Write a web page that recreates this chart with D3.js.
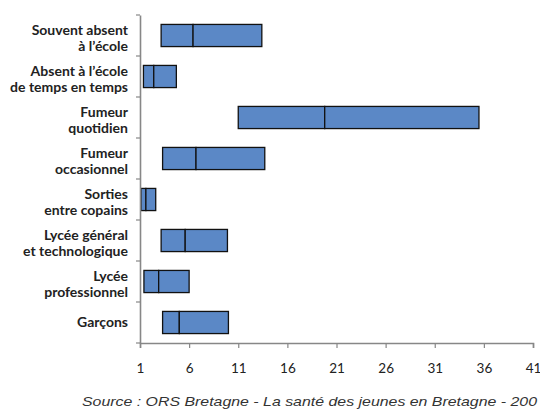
<!DOCTYPE html>
<html>
<head>
<meta charset="utf-8">
<script src="https://cdn.jsdelivr.net/npm/d3@7"></script>
<style>
  body { margin: 0; background: #fff; }
</style>
</head>
<body>
<div id="chart"></div>
<script>
// categories, top to bottom (each label split on lines)
const categories = [
    ["Souvent absent", "à l’école"],
    ["Absent à l’école", "de temps en temps"],
    ["Fumeur", "quotidien"],
    ["Fumeur", "occasionnel"],
    ["Sorties", "entre copains"],
    ["Lycée général", "et technologique"],
    ["Lycée", "professionnel"],
    ["Garçons"]
];
// low bound, median, high bound
const lowVals  = [3.15, 1.35, 11.0, 3.3, 1.1, 3.15, 1.4, 3.3];
const midVals  = [6.4, 2.4, 19.8, 6.7, 1.6, 5.6, 2.9, 5.0];
const highVals = [13.4, 4.7, 35.5, 13.7, 2.6, 9.9, 6.0, 10.0];
const xTicks = [1, 6, 11, 16, 21, 26, 31, 36, 41];
const sourceText = "Source : ORS Bretagne - La santé des jeunes en Bretagne - 200";

const width = 540, height = 412;
const margin = {top: 15, left: 140, right: 7, bottom: 69};

const svg = d3.select("#chart")
    .append("svg")
    .attr("width", width)
    .attr("height", height);

const x = d3.scaleLinear()
    .domain([1, 41])
    .range([margin.left, width - margin.right]);

const y = d3.scaleBand()
    .domain(d3.range(categories.length))
    .range([margin.top, height - margin.bottom]);

const rows = categories.map((c, i) => ({
    label: c, low: lowVals[i], mid: midVals[i], high: highVals[i], i: i
}));

const barH = y.bandwidth() * 0.54;

const g = svg.append("g");

// lower part (low -> median)
g.selectAll("rect.lo")
    .data(rows)
    .join("rect")
    .attr("class", "lo")
    .attr("x", d => x(d.low))
    .attr("y", d => y(d.i) + (y.bandwidth() - barH) / 2)
    .attr("width", d => x(d.mid) - x(d.low))
    .attr("height", barH)
    .attr("fill", "#5b88c6")
    .attr("stroke", "#111")
    .attr("stroke-width", 1.3);

// upper part (median -> high)
g.selectAll("rect.hi")
    .data(rows)
    .join("rect")
    .attr("class", "hi")
    .attr("x", d => x(d.mid))
    .attr("y", d => y(d.i) + (y.bandwidth() - barH) / 2)
    .attr("width", d => x(d.high) - x(d.mid))
    .attr("height", barH)
    .attr("fill", "#5b88c6")
    .attr("stroke", "#111")
    .attr("stroke-width", 1.3);

// x axis
const xAxis = svg.append("g")
    .attr("transform", `translate(0,${height - margin.bottom})`)
    .call(d3.axisBottom(x).tickValues(xTicks).tickSize(5).tickPadding(15));
xAxis.select(".domain").attr("stroke", "#878787").attr("stroke-width", 1.6);
xAxis.selectAll(".tick line").attr("stroke", "#878787").attr("stroke-width", 1.2);
xAxis.selectAll(".tick text")
    .attr("font-family", "Lato, sans-serif")
    .attr("font-size", "13.5px")
    .attr("fill", "#222");

// y axis (category separators)
const yAxis = svg.append("g")
    .attr("transform", `translate(${margin.left},0)`)
    .call(d3.axisLeft(y).tickSize(0).tickFormat(""));
yAxis.select(".domain").attr("stroke", "#878787").attr("stroke-width", 1.6);

const sep = d3.range(categories.length + 1).map(i => margin.top + i * y.step());
yAxis.selectAll("line.sep")
    .data(sep)
    .join("line")
    .attr("class", "sep")
    .attr("x1", -4).attr("x2", 0)
    .attr("y1", d => d).attr("y2", d => d)
    .attr("stroke", "#878787")
    .attr("stroke-width", 1.2);

// category labels
const labels = svg.append("g")
    .selectAll("text")
    .data(rows)
    .join("text")
    .attr("text-anchor", "end")
    .attr("font-family", "Lato, sans-serif")
    .attr("font-weight", "bold")
    .attr("font-size", "14px")
    .attr("fill", "#222")
    .attr("x", margin.left - 12)
    .attr("y", d => y(d.i) + y.bandwidth() / 2);

labels.selectAll("tspan")
    .data(d => d.label.map((t, k) => ({t, k, n: d.label.length})))
    .join("tspan")
    .attr("x", margin.left - 12)
    .attr("dy", d => d.k === 0 ? (4 - (d.n - 1) * 4.5) : 15.5)
    .text(d => d.t);

// source
svg.append("text")
    .attr("x", 82)
    .attr("y", 406)
    .attr("font-family", "Liberation Sans, Arial, sans-serif")
    .attr("font-style", "italic")
    .attr("font-size", "13.5px")
    .attr("fill", "#333")
    .attr("textLength", 455)
    .attr("lengthAdjust", "spacingAndGlyphs")
    .text(sourceText);
</script>
</body>
</html>
